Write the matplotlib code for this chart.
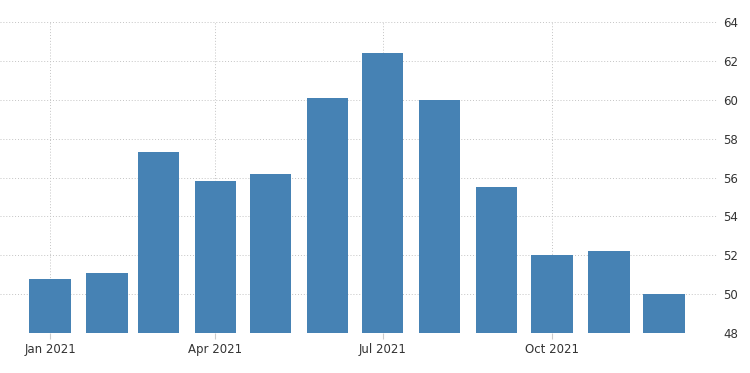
import numpy as np
import pandas as pd
import matplotlib.pyplot as plt
import matplotlib.dates as mdates

# данные по месяцам 2021
months = pd.date_range('2021-01-01', periods=12, freq='MS')
values = [50.8, 51.1, 57.3, 55.8, 56.2, 60.1, 62.4, 60.0, 55.5, 52.0, 52.2, 50.0]
tick_dates = pd.to_datetime(['2021-01-01', '2021-04-01', '2021-07-01', '2021-10-01'])
tick_labels = ['Jan 2021', 'Apr 2021', 'Jul 2021', 'Oct 2021']

fig = plt.figure(figsize=(7.5, 3.73), dpi=100)
ax = fig.add_axes([0.0, 0.107, 0.957, 0.834])

x = mdates.date2num(months)
ax.bar(x, np.array(values) - 48, bottom=48, width=22.5, color='#4682b4', zorder=2)

start = mdates.date2num(pd.Timestamp('2021-01-01'))
ax.set_xlim(start - 27.2, start + 363.2)
ax.set_ylim(48, 64)
ax.set_yticks(np.arange(48, 65, 2))
ax.set_xticks(mdates.date2num(tick_dates))
ax.set_xticklabels(tick_labels)

ax.yaxis.tick_right()
ax.tick_params(axis='y', length=0, pad=4, labelsize=8.5, labelcolor='#333333')
ax.tick_params(axis='x', length=4, color='#cccccc', pad=3, labelsize=8.5, labelcolor='#333333')

ax.grid(True, linestyle=(0, (1, 2)), color='#c4c4c4', linewidth=0.7, zorder=0)
for s in ax.spines.values():
    s.set_visible(False)

fig.savefig('out.png', dpi=100)
